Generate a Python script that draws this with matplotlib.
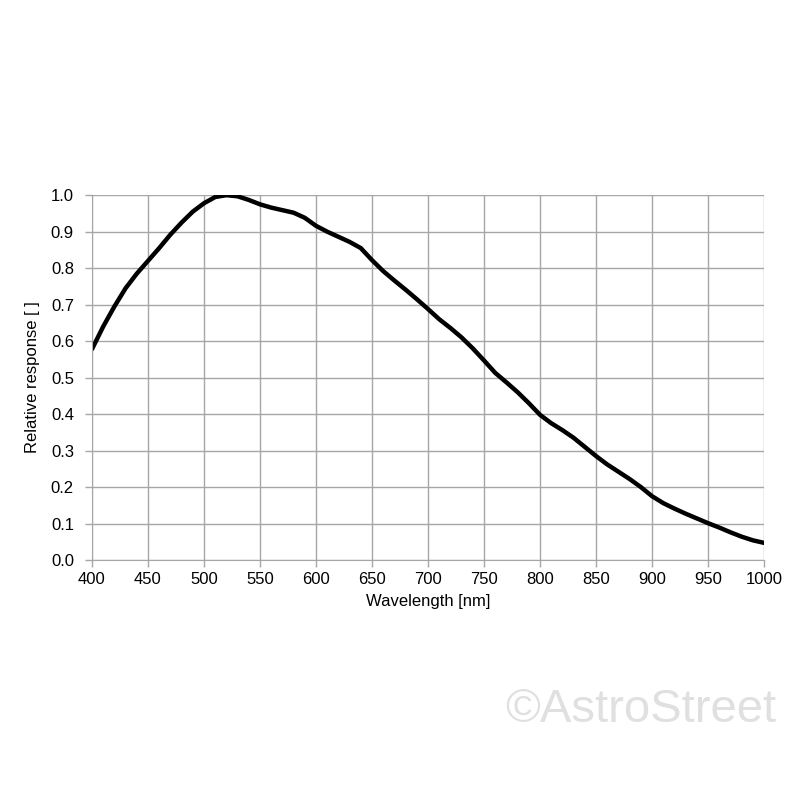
import matplotlib.pyplot as plt

plt.rcParams['font.family'] = ['Liberation Sans', 'DejaVu Sans']

wavelength = [400, 410, 420, 430, 440, 450, 460, 470, 480, 490,
              500, 510, 520, 530, 540, 550, 560, 570, 580, 590,
              600, 610, 620, 630, 640, 650, 660, 670, 680, 690,
              700, 710, 720, 730, 740, 750, 760, 770, 780, 790,
              800, 810, 820, 830, 840, 850, 860, 870, 880, 890,
              900, 910, 920, 930, 940, 950, 960, 970, 980, 990, 1000]
response = [0.578, 0.64, 0.695, 0.745, 0.785, 0.82, 0.855, 0.892, 0.925, 0.955,
            0.978, 0.995, 1.0, 0.997, 0.987, 0.975, 0.966, 0.959, 0.952, 0.938,
            0.916, 0.9, 0.886, 0.872, 0.855, 0.822, 0.792, 0.766, 0.741, 0.715,
            0.688, 0.66, 0.636, 0.61, 0.58, 0.547, 0.513, 0.487, 0.46, 0.43,
            0.398, 0.375, 0.356, 0.335, 0.31, 0.285, 0.262, 0.242, 0.222, 0.2,
            0.175, 0.156, 0.141, 0.127, 0.114, 0.101, 0.089, 0.076, 0.064, 0.054, 0.047]

x_ticks = list(range(400, 1001, 50))
y_ticks = [i / 10 for i in range(11)]

fig = plt.figure(figsize=(8, 8), dpi=100)
ax = fig.add_axes([0.115, 0.3, 0.84, 0.456])
ax.plot(wavelength, response, color='black', linewidth=3.2, solid_capstyle='round')

ax.set_xlim(400, 1000)
ax.set_ylim(0, 1.0)
ax.set_xticks(x_ticks)
ax.set_yticks(y_ticks)
ax.set_yticklabels([f'{v:.1f}' for v in y_ticks])
ax.grid(True, color='#a6a6a6', linewidth=1)
ax.set_axisbelow(True)
for s in ax.spines.values():
    s.set_color('#a6a6a6')
ax.spines['top'].set_visible(False)
ax.spines['right'].set_visible(False)
ax.tick_params(colors='#a6a6a6', labelcolor='black', labelsize=12, length=5, width=1)
ax.tick_params(axis='y', pad=8)

ax.set_xlabel('Wavelength [nm]', fontsize=12, labelpad=5)
ax.set_ylabel('Relative response [ ]', fontsize=12, labelpad=8)

fig.text(0.97, 0.112, '\u00a9AstroStreet', fontsize=34, color='#e0e0e0',
         ha='right', va='center')

fig.savefig('out.png', dpi=100, facecolor='white')
